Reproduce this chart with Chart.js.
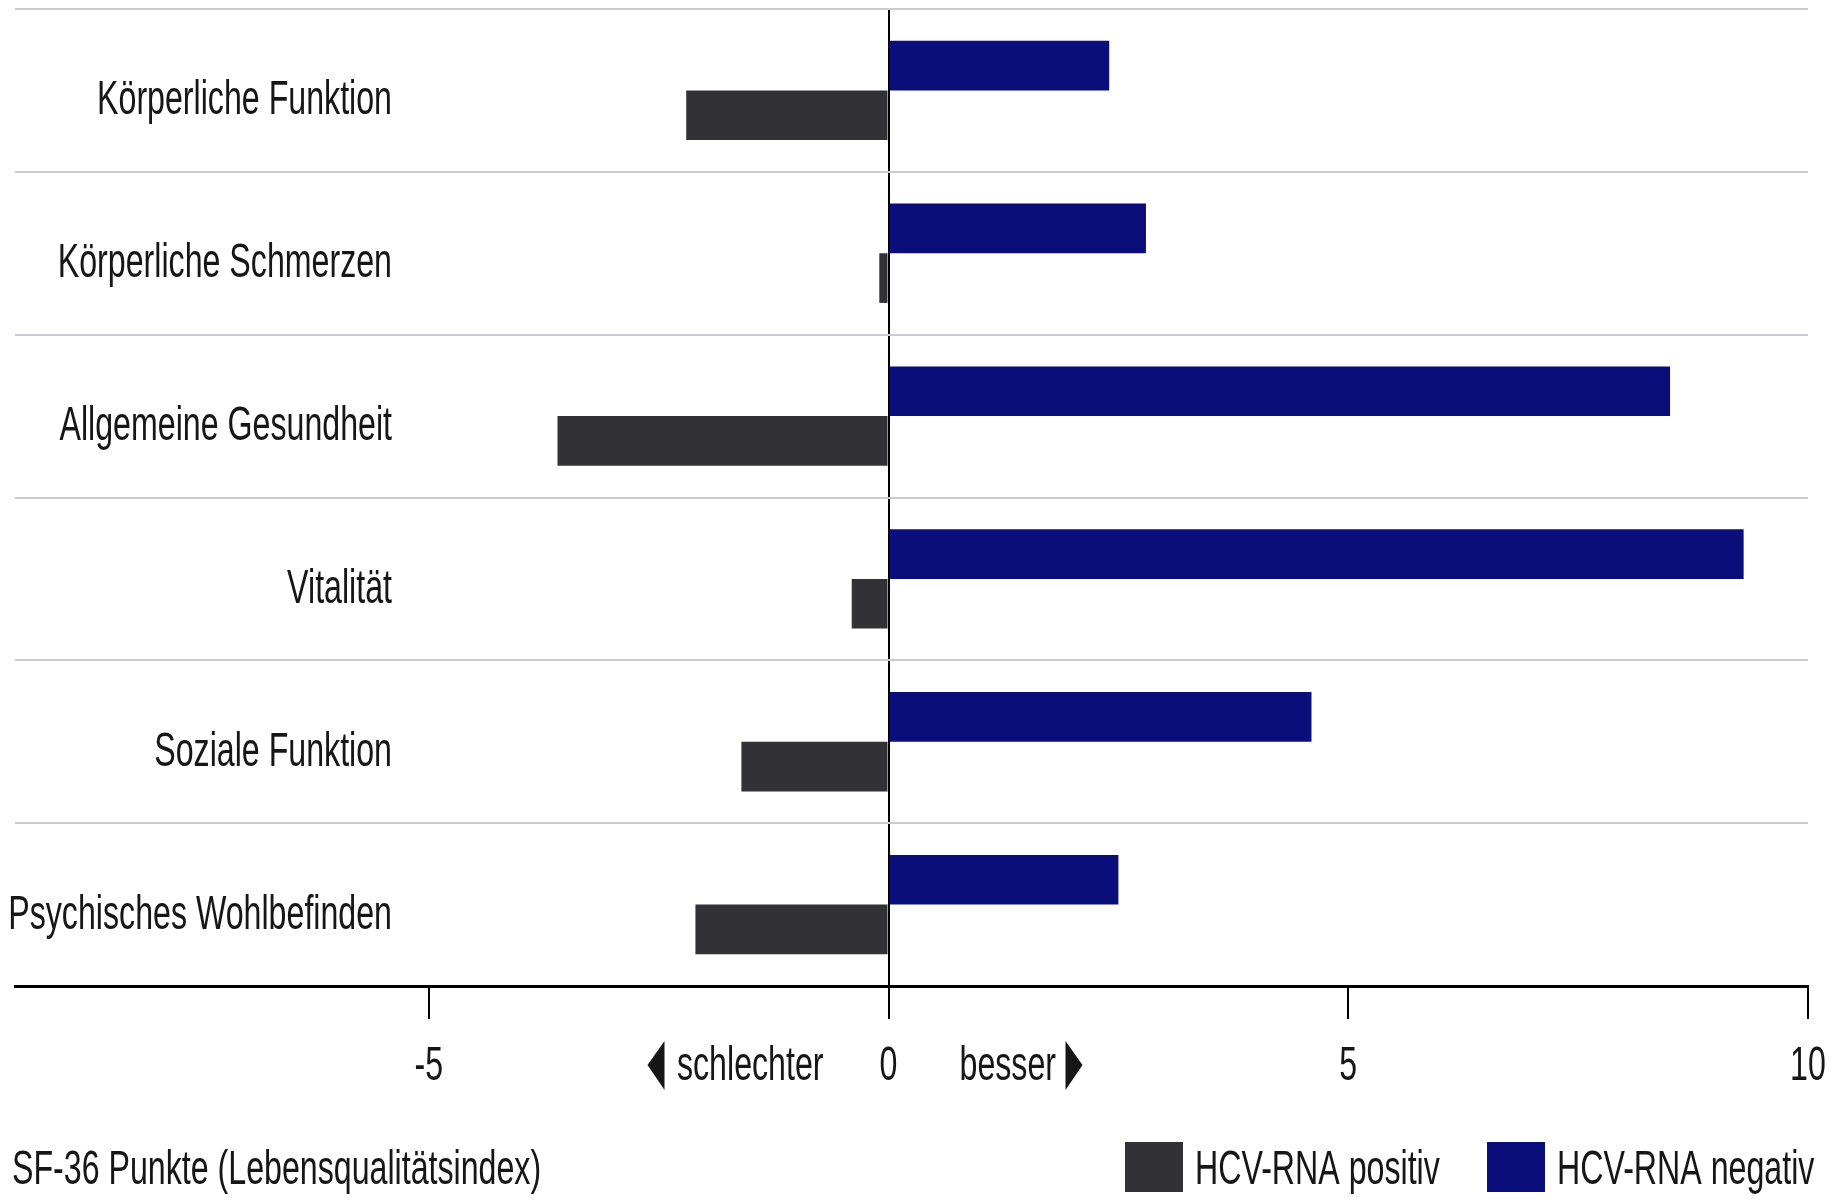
<!DOCTYPE html>
<html lang="de">
<head>
<meta charset="utf-8">
<title>SF-36 Lebensqualität</title>
<script src="https://cdn.jsdelivr.net/npm/chart.js@4/dist/chart.umd.min.js"></script>
<style>
  body { margin: 0; background: #fff; }
  canvas { display: block; }
</style>
</head>
<body>
<canvas id="myChart" width="1837" height="1200"></canvas>
<script>
// SF-36 Skalen
const kategorien = [
    'Körperliche Funktion',
    'Körperliche Schmerzen',
    'Allgemeine Gesundheit',
    'Vitalität',
    'Soziale Funktion',
    'Psychisches Wohlbefinden'
];

// Veränderung der Punkte je Gruppe
const rnaNegativ = [2.4, 2.8, 8.5, 9.3, 4.6, 2.5];
const rnaPositiv = [-2.2, -0.1, -3.6, -0.4, -1.6, -2.1];

const achsenTicks = [-5, 0, 5, 10];
const achsenTitel = 'SF-36 Punkte (Lebensqualitätsindex)';

const blau = 'rgb(10, 14, 122)';
const grau = 'rgb(50, 50, 54)';
const schrift = '"Liberation Sans", Arial, sans-serif';

// Text schmal zeichnen (Condensed-Schnitt nachgebildet)
const schmal = (ctx, txt, px, py, align) => {
    ctx.save();
    ctx.translate(px, py);
    ctx.scale(0.67, 1);
    ctx.textAlign = align;
    ctx.fillText(txt, 0, 0);
    ctx.restore();
}

const beschriftung = {
    id: 'beschriftung',
    afterDraw(chart) {
        const { ctx, scales: { x, y } } = chart;
        ctx.save();
        ctx.font = '48px ' + schrift;
        ctx.fillStyle = '#161616';
        ctx.textBaseline = 'alphabetic';

        // Kategorien links im Diagramm
        kategorien.forEach((k, i) => {
            schmal(ctx, k, 392, y.getPixelForValue(i) + 24, 'right');
        });

        // Zahlen an der x-Achse
        const grundlinie = 1080;
        x.ticks.forEach(t => {
            schmal(ctx, String(t.value), x.getPixelForValue(t.value), grundlinie, 'center');
        });

        // schlechter / besser mit Pfeilen
        const nullX = x.getPixelForValue(0);
        schmal(ctx, 'schlechter', nullX - 65, grundlinie, 'right');
        schmal(ctx, 'besser', nullX + 71, grundlinie, 'left');
        ctx.beginPath();
        ctx.moveTo(nullX - 224, 1041);
        ctx.lineTo(nullX - 224, 1090);
        ctx.lineTo(nullX - 241, 1065);
        ctx.closePath();
        ctx.fill();
        ctx.beginPath();
        ctx.moveTo(nullX + 177, 1041);
        ctx.lineTo(nullX + 177, 1090);
        ctx.lineTo(nullX + 194, 1065);
        ctx.closePath();
        ctx.fill();

        // Achsentitel unten links
        schmal(ctx, achsenTitel, 12, 1184, 'left');

        // Legende unten rechts
        const eintraege = [chart.data.datasets[1], chart.data.datasets[0]];
        const startX = [1125, 1487];
        eintraege.forEach((ds, i) => {
            ctx.fillStyle = ds.backgroundColor;
            ctx.fillRect(startX[i], 1142, 58, 50);
            ctx.fillStyle = '#161616';
            schmal(ctx, ds.label, startX[i] + 70, 1184, 'left');
        });
        ctx.restore();
    }
}

let ctx = document.getElementById('myChart').getContext('2d');
let myChart = new Chart(ctx, {
    type: 'bar',
    data: {
        labels: kategorien,
        datasets: [
            {
                label: 'HCV-RNA negativ',
                data: rnaNegativ,
                backgroundColor: blau
            },
            {
                label: 'HCV-RNA positiv',
                data: rnaPositiv,
                backgroundColor: grau
            }
        ]
    },
    options: {
        indexAxis: 'y',
        responsive: false,
        animation: false,
        devicePixelRatio: 1,
        layout: { padding: { left: 15, right: 29, top: 9, bottom: 0 } },
        datasets: {
            bar: { categoryPercentage: 0.61, barPercentage: 1 }
        },
        plugins: {
            legend: { display: false },
            tooltip: { enabled: false }
        },
        scales: {
            x: {
                min: -9.5,
                max: 10,
                z: 1,
                afterBuildTicks: s => { s.ticks = achsenTicks.map(v => ({ value: v })) },
                afterFit: s => {
                    s.height = 214;
                    s.paddingLeft = 0;
                    s.paddingRight = 0;
                },
                grid: {
                    color: c => c.tick && c.tick.value === 0 ? '#000' : 'rgba(0,0,0,0)',
                    lineWidth: 2,
                    tickColor: '#000',
                    tickWidth: 2,
                    tickLength: 33
                },
                border: { display: true, color: '#000', width: 3 },
                ticks: { display: false }
            },
            y: {
                afterFit: s => { s.width = 0 },
                grid: {
                    color: '#c9ccd6',
                    lineWidth: 2,
                    drawTicks: false
                },
                border: { display: false },
                ticks: { display: false }
            }
        }
    },
    plugins: [beschriftung]
})
</script>
</body>
</html>
